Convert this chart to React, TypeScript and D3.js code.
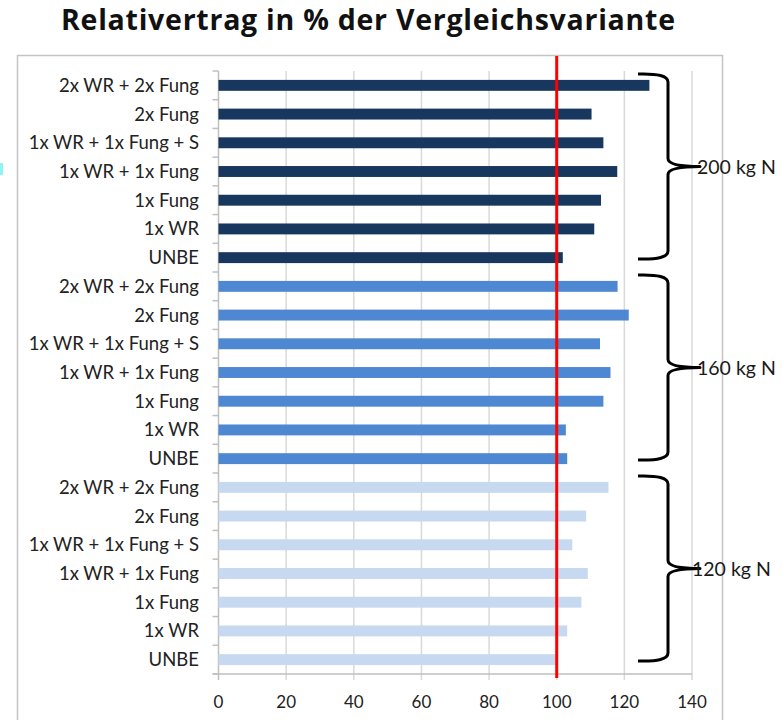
import { useEffect, useRef } from 'react'
import * as d3 from 'd3'

const variants = ['2x WR + 2x Fung', '2x Fung', '1x WR + 1x Fung + S', '1x WR + 1x Fung', '1x Fung', '1x WR', 'UNBE']
const groups = ['200 kg N', '160 kg N', '120 kg N']
const values200 = [127.4, 110.3, 113.8, 117.9, 113.1, 111.1, 101.8]
const values160 = [118.0, 121.3, 112.8, 115.9, 113.8, 102.7, 103.1]
const values120 = [115.3, 108.7, 104.6, 109.2, 107.3, 103.1, 100.0]
const groupColors = ['#17375e', '#4f88d2', '#c6d9f1']
const xTicks = [0, 20, 40, 60, 80, 100, 120, 140]
const referenceValue = 100
const title = 'Relativertrag in % der Vergleichsvariante'

export default function App() {
  const svgRef = useRef<SVGSVGElement | null>(null)

  useEffect(() => {
    const W = 783
    const H = 720
    const margin = { top: 71, left: 218.5, right: 91, bottom: 46 }
    const font = 'Lato, "DejaVu Sans", sans-serif'

    const groupValues = [values200, values160, values120]
    const rows = groups.flatMap((grp, gi) =>
      variants.map((v, vi) => ({ key: `${gi}-${vi}`, group: gi, label: v, value: groupValues[gi][vi] }))
    )

    const x = d3.scaleLinear().domain([0, 140]).range([margin.left, W - margin.right])
    const y = d3.scaleBand<string>()
      .domain(rows.map((r) => r.key))
      .range([margin.top, H - margin.bottom])
      .paddingInner(0.62)
      .paddingOuter(0.31)

    const svg = d3.select(svgRef.current)
    svg.selectAll('*').remove()
    svg.attr('width', W).attr('height', H)

    svg.append('rect').attr('width', W).attr('height', H).attr('fill', '#fff')

    // outer chart frame
    svg.append('rect')
      .attr('x', 17.5).attr('y', 55.5).attr('width', 705).attr('height', 700)
      .attr('fill', 'none').attr('stroke', '#c4c4c4').attr('stroke-width', 1.5)

    // small cyan marker at left edge
    svg.append('rect').attr('x', 0).attr('y', 163).attr('width', 3).attr('height', 12).attr('fill', '#8ef5f5')

    svg.append('text')
      .attr('x', 61).attr('y', 30)
      .attr('textLength', 614).attr('lengthAdjust', 'spacing')
      .attr('font-family', '"Open Sans", Lato, sans-serif').attr('font-weight', 700).attr('font-size', 28.5)
      .attr('fill', '#111')
      .text(title)

    const y0 = margin.top
    const y1 = H - margin.bottom

    // vertical gridlines
    svg.append('g')
      .selectAll('line')
      .data(xTicks.slice(1))
      .join('line')
      .attr('x1', (d) => x(d)).attr('x2', (d) => x(d))
      .attr('y1', y0).attr('y2', y1 + 6)
      .attr('stroke', '#d9d9d9').attr('stroke-width', 1.5)

    // left axis
    const step = y.step()
    const boundaries = d3.range(rows.length + 1).map((i) => y0 + i * step)
    svg.append('line')
      .attr('x1', x(0)).attr('x2', x(0)).attr('y1', y0).attr('y2', y1 + 6)
      .attr('stroke', '#bfbfbf').attr('stroke-width', 1.5)
    svg.append('g')
      .selectAll('line')
      .data(boundaries)
      .join('line')
      .attr('x1', x(0) - 6).attr('x2', x(0))
      .attr('y1', (d) => d).attr('y2', (d) => d)
      .attr('stroke', '#bfbfbf').attr('stroke-width', 1.5)

    // bottom axis
    svg.append('line')
      .attr('x1', x(0) - 6).attr('x2', x(140)).attr('y1', y1).attr('y2', y1)
      .attr('stroke', '#bfbfbf').attr('stroke-width', 1.5)

    svg.append('g')
      .selectAll('text')
      .data(xTicks)
      .join('text')
      .attr('x', (d) => x(d)).attr('y', y1 + 34)
      .attr('text-anchor', 'middle')
      .attr('font-family', font).attr('font-size', 17).attr('fill', '#222')
      .text((d) => d)

    // bars
    svg.append('g')
      .selectAll('rect')
      .data(rows)
      .join('rect')
      .attr('x', x(0))
      .attr('y', (d) => y(d.key)!)
      .attr('width', (d) => x(d.value) - x(0))
      .attr('height', y.bandwidth())
      .attr('fill', (d) => groupColors[d.group])

    // category labels
    svg.append('g')
      .selectAll('text')
      .data(rows)
      .join('text')
      .attr('x', 199)
      .attr('y', (d) => y(d.key)! + y.bandwidth() / 2)
      .attr('dy', '0.35em')
      .attr('text-anchor', 'end')
      .attr('font-family', font).attr('font-size', 18.5).attr('fill', '#222')
      .text((d) => d.label)

    // reference line at 100 %
    svg.append('line')
      .attr('x1', x(referenceValue)).attr('x2', x(referenceValue))
      .attr('y1', 56).attr('y2', y1 + 4)
      .attr('stroke', '#ff0000').attr('stroke-width', 3)

    // curly braces per N level
    groups.forEach((grp, gi) => {
      const top = boundaries[gi * 7] + 3
      const bot = boundaries[(gi + 1) * 7] - 13
      const mid = (top + bot) / 2
      const xa = 638
      const xs = 668
      const xt = 700
      const r = 8
      const p = d3.path()
      p.moveTo(xa, top)
      p.quadraticCurveTo(xs, top - 1, xs, top + r)
      p.lineTo(xs, mid - r)
      p.quadraticCurveTo(xs, mid, xt, mid)
      p.quadraticCurveTo(xs, mid, xs, mid + r)
      p.lineTo(xs, bot - r)
      p.quadraticCurveTo(xs, bot + 1, xa, bot)
      svg.append('path')
        .attr('d', p.toString())
        .attr('fill', 'none').attr('stroke', '#000').attr('stroke-width', 3)
        .attr('stroke-linejoin', 'round')

      svg.append('text')
        .attr('x', gi === 2 ? 692 : 697).attr('y', mid)
        .attr('dy', '0.36em')
        .attr('font-family', font).attr('font-size', 19.5).attr('fill', '#1a1a1a')
        .text(grp)
    })

    return () => { svg.selectAll('*').remove() }
  }, [])

  return (
    <div style={{ position: 'absolute', left: 0, top: 0 }}>
      <svg ref={svgRef} style={{ display: 'block' }} />
    </div>
  )
}
